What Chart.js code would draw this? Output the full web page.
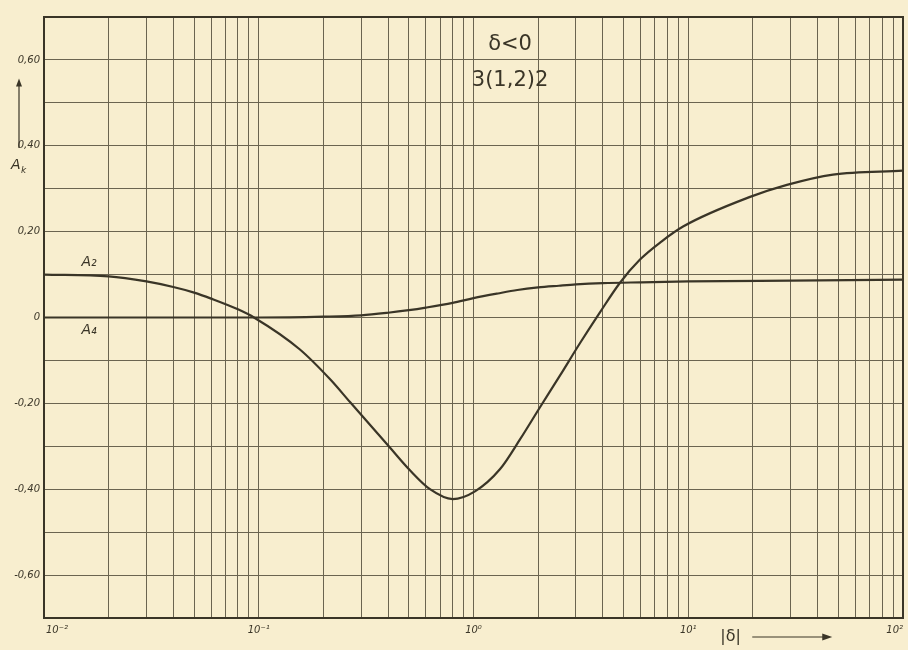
<!DOCTYPE html>
<html><head><meta charset="utf-8">
<script src="https://cdn.jsdelivr.net/npm/chart.js@4/dist/chart.umd.min.js"></script>
<style>html,body{margin:0;padding:0;background:#f7edcc;}</style>
</head><body>
<canvas id="c" width="908" height="650"></canvas>
<script>
// ---- data ----
const a2X = [0.01, 0.02, 0.03, 0.04, 0.05, 0.06, 0.08, 0.095, 0.155, 0.215, 0.266, 0.408, 0.506, 0.627, 0.80, 1.016, 1.33, 1.646, 2.04, 2.53, 3.13, 3.88, 4.81, 5.96, 7.5, 9.46, 19.4, 28.8, 47.2, 100];
const a2Y = [0.100, 0.096, 0.084, 0.071, 0.058, 0.044, 0.019, 0.000, -0.074, -0.144, -0.197, -0.303, -0.356, -0.400, -0.423, -0.405, -0.353, -0.284, -0.209, -0.135, -0.060, 0.012, 0.081, 0.135, 0.177, 0.212, 0.281, 0.309, 0.333, 0.342];
const a4X = [0.01, 0.1, 0.2, 0.3, 0.4, 0.5, 0.6, 0.8, 1.0, 1.3, 1.6, 2.0, 2.5, 3.0, 4.0, 6.0, 10, 30, 100];
const a4Y = [0.000, 0.000, 0.002, 0.005, 0.011, 0.017, 0.023, 0.034, 0.045, 0.056, 0.064, 0.070, 0.074, 0.077, 0.080, 0.082, 0.084, 0.086, 0.088];
const seriesNames = ["A₂", "A₄"];
const xTickValues = [0.01, 0.1, 1, 10, 100];
const xTickLabels = ["10⁻²", "10⁻¹", "10⁰", "10¹", "10²"];
const yTickValues = [0.6, 0.4, 0.2, 0, -0.2, -0.4, -0.6];
const yTickLabels = ["0,60", "0,40", "0,20", "0", "-0,20", "-0,40", "-0,60"];
const titleLines = ["δ<0", "3(1,2)2"];
const yTitle = "A";
const yTitleSub = "k";
const xTitle = "|δ|";

const BG = '#f8eecf';
const INK = '#3a3527';
const GRID = '#6b6450';

const toPts = (xs, ys) => xs.map((x, i) => ({x: x, y: ys[i]}));

const decorPlugin = {
  id: 'decor',
  beforeDraw(chart) {
    const ctx = chart.ctx;
    ctx.save();
    ctx.fillStyle = BG;
    ctx.fillRect(0, 0, chart.width, chart.height);
    ctx.restore();
  },
  afterDraw(chart) {
    const ctx = chart.ctx;
    const xs = chart.scales.x, ys = chart.scales.y;
    const a = chart.chartArea;
    ctx.save();
    // frame
    ctx.strokeStyle = INK;
    ctx.lineWidth = 2;
    ctx.strokeRect(a.left, a.top, a.right - a.left, a.bottom - a.top);
    ctx.fillStyle = INK;
    // x tick labels
    ctx.font = 'italic 10px "DejaVu Sans"';
    ctx.textBaseline = 'top';
    xTickValues.forEach((v, i) => {
      const px = xs.getPixelForValue(v);
      ctx.textAlign = i === xTickValues.length - 1 ? 'right' : (i === 0 ? 'left' : 'center');
      ctx.fillText(xTickLabels[i], px + (i === 0 ? 2 : 0), a.bottom + 7);
    });
    // titles inside plot
    ctx.font = '21px "DejaVu Sans"';
    ctx.textAlign = 'center';
    ctx.textBaseline = 'middle';
    ctx.fillText(titleLines[0], xs.getPixelForValue(1.48), ys.getPixelForValue(0.635));
    ctx.fillText(titleLines[1], xs.getPixelForValue(1.48), ys.getPixelForValue(0.553));
    // series labels
    ctx.font = 'italic 14px "DejaVu Sans"';
    ctx.fillText(seriesNames[0], xs.getPixelForValue(0.0162), ys.getPixelForValue(0.128));
    ctx.fillText(seriesNames[1], xs.getPixelForValue(0.0162), ys.getPixelForValue(-0.03));
    // y title with arrow
    const yx = a.left - 25;
    ctx.lineWidth = 1.2;
    ctx.beginPath();
    ctx.moveTo(yx, ys.getPixelForValue(0.395));
    ctx.lineTo(yx, ys.getPixelForValue(0.545));
    ctx.stroke();
    const ty = ys.getPixelForValue(0.545);
    ctx.beginPath();
    ctx.moveTo(yx, ty - 5); ctx.lineTo(yx - 3, ty + 3); ctx.lineTo(yx + 3, ty + 3); ctx.closePath(); ctx.fill();
    ctx.font = 'italic 14px "DejaVu Sans"';
    ctx.textAlign = 'left';
    const ay = ys.getPixelForValue(0.355);
    ctx.fillText(yTitle, yx - 8, ay);
    ctx.font = 'italic 9px "DejaVu Sans"';
    ctx.fillText(yTitleSub, yx + 2, ay + 6);
    // x title with arrow
    ctx.font = '16px "DejaVu Sans"';
    ctx.textAlign = 'left';
    const xx = xs.getPixelForValue(10) + 32;
    const xy = a.bottom + 19;
    ctx.fillText(xTitle, xx, xy);
    ctx.beginPath();
    ctx.moveTo(xx + 32, xy); ctx.lineTo(xx + 104, xy); ctx.stroke();
    ctx.beginPath();
    ctx.moveTo(xx + 112, xy); ctx.lineTo(xx + 102, xy - 3.5); ctx.lineTo(xx + 102, xy + 3.5); ctx.closePath(); ctx.fill();
    ctx.restore();
  }
};

new Chart(document.getElementById('c'), {
  type: 'line',
  data: {
    datasets: [
      {label: seriesNames[0], data: toPts(a2X, a2Y), borderColor: INK, borderWidth: 2.2, pointRadius: 0, cubicInterpolationMode: 'monotone', fill: false},
      {label: seriesNames[1], data: toPts(a4X, a4Y), borderColor: INK, borderWidth: 2.2, pointRadius: 0, cubicInterpolationMode: 'monotone', fill: false}
    ]
  },
  options: {
    responsive: false,
    animation: false,
    devicePixelRatio: 1,
    layout: {padding: {left: 0, right: 5, top: 17, bottom: 0}},
    plugins: {legend: {display: false}, tooltip: {enabled: false}, title: {display: false}},
    scales: {
      x: {
        type: 'logarithmic',
        min: 0.01, max: 100,
        afterBuildTicks(scale) {
          const t = [];
          for (let d = -2; d < 2; d++) for (let m = 1; m <= 9; m++) t.push({value: +(m * Math.pow(10, d)).toPrecision(3)});
          t.push({value: 100});
          scale.ticks = t;
        },
        afterFit(scale) { scale.height = 32; },
        ticks: {display: false},
        grid: {color: GRID, lineWidth: 1, drawTicks: false},
        border: {display: false}
      },
      y: {
        type: 'linear',
        min: -0.7, max: 0.7,
        afterBuildTicks(scale) {
          const t = [];
          for (let k = -7; k <= 7; k++) t.push({value: k / 10});
          scale.ticks = t;
        },
        afterFit(scale) { scale.width = 44; },
        ticks: {
          color: INK,
          font: {family: 'DejaVu Sans', size: 10, style: 'italic'},
          padding: 4,
          callback(v) {
            const i = yTickValues.findIndex(q => Math.abs(q - v) < 1e-6);
            return i >= 0 ? yTickLabels[i] : '';
          }
        },
        grid: {color: GRID, lineWidth: 1, drawTicks: false},
        border: {display: false}
      }
    }
  },
  plugins: [decorPlugin]
});
</script>
</body></html>
